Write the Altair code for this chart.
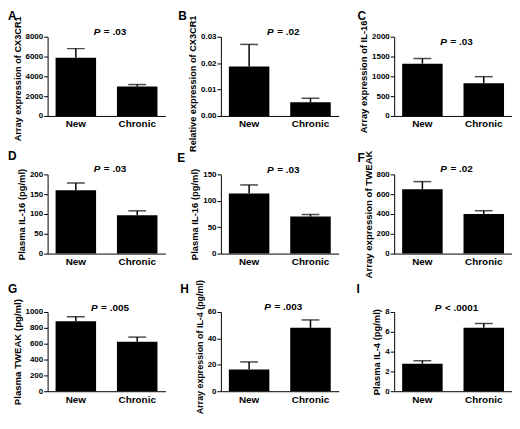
import altair as alt
import pandas as pd

# ---- data ----
letters = ["A", "B", "C", "D", "E", "F", "G", "H", "I"]
y_titles = [
    "Array expression of CX3CR1",
    "Relative expression of CX3CR1",
    "Array expression of IL-16",
    "Plasma IL-16 (pg/ml)",
    "Plasma IL-16 (pg/ml)",
    "Array expression of TWEAK",
    "Plasma TWEAK (pg/ml)",
    "Array expression of IL-4 (pg/ml)",
    "Plasma IL-4 (pg/ml)",
]
groups = ["New", "Chronic"]
new_mean = [5870, 0.0187, 1320, 160, 114, 650, 883, 16.5, 2.78]
new_sem = [930, 0.0084, 130, 18, 16, 77, 57, 5.7, 0.3]
chronic_mean = [2970, 0.0052, 825, 97, 70, 400, 625, 48, 6.42]
chronic_sem = [200, 0.0015, 167, 11, 4, 33, 58, 6, 0.42]
y_max = [8000, 0.03, 2000, 200, 150, 800, 1000, 60, 8]
y_ticks = [
    [0, 2000, 4000, 6000, 8000],
    [0, 0.01, 0.02, 0.03],
    [0, 500, 1000, 1500, 2000],
    [0, 50, 100, 150, 200],
    [0, 50, 100, 150],
    [0, 200, 400, 600, 800],
    [0, 200, 400, 600, 800, 1000],
    [0, 20, 40, 60],
    [0, 2, 4, 6, 8],
]
y_format = ["d", ".2f", "d", "d", "d", "d", "d", "d", "d"]
p_rest = ["= .03", "= .02", "= .03", "= .03", "= .03", "= .02", "= .005", "= .003", "< .0001"]

# ---- layout / style ----
FONT = "Liberation Sans"
W, H = 119, 80
title_size = [9.3, 9.3, 9.5, 9.5, 9.5, 9.7, 9.7, 9.0, 9.5]
title_shift = [2, 7, 0, 0, 0, 0, 0, -5, 0]
letter_dx = [-40, -43, -37, -40, -44, -37, -40, -41, -38]
letter_dy = [-26, -26, -26, -24, -22, -21, -28, -28, -28]
p_dy = [-5, -5, 5, -5, -4, -5, -4, -5, -4]

char_w = {"=": 0.584, "<": 0.584, " ": 0.278, ".": 0.278}


def text_width(s, size=10):
    return sum(char_w.get(c, 0.556) for c in s) * size


def panel(i):
    df = pd.DataFrame({
        "group": groups,
        "mean": [new_mean[i], chronic_mean[i]],
        "upper": [new_mean[i] + new_sem[i], chronic_mean[i] + chronic_sem[i]],
    })
    xscale = alt.Scale(paddingInner=0.34, paddingOuter=0.13)
    xaxis = alt.Axis(title=None, labelAngle=0, ticks=False,
                     labelFontSize=10, labelFontWeight="bold",
                     labelColor="black", labelPadding=3,
                     domainColor="black", domainWidth=1,
                     labelFont=FONT)
    yscale = alt.Scale(domain=[0, y_max[i]], nice=False, zero=True)
    yaxis = alt.Axis(title=y_titles[i], values=y_ticks[i], format=y_format[i],
                     labelOverlap=False, grid=False,
                     tickSize=4, tickColor="black", tickWidth=1,
                     domainColor="black", domainWidth=1,
                     labelFontSize=8, labelFontWeight="bold", labelColor="black",
                     labelPadding=1, labelFont=FONT,
                     titleFontSize=title_size[i], titleFontWeight="bold",
                     titleColor="black", titlePadding=3, titleFont=FONT,
                     titleY=H / 2 + title_shift[i])
    x = alt.X("group:N", sort=groups, scale=xscale, axis=xaxis)
    base = alt.Chart(df)
    bars = base.mark_bar(color="black").encode(
        x=x, y=alt.Y("mean:Q", scale=yscale, axis=yaxis))
    rule = base.mark_rule(color="black", strokeWidth=1.5).encode(
        x=x, y=alt.Y("mean:Q", scale=yscale, axis=yaxis), y2="upper:Q")
    cap = base.mark_tick(color="black", thickness=1.5, size=18).encode(
        x=x, y=alt.Y("upper:Q", scale=yscale, axis=yaxis))

    total = text_width("P ") + 1.1 + text_width(p_rest[i])
    x0 = W / 2 + 3 - total / 2
    pdf = pd.DataFrame({"t": ["P"]})
    p_it = alt.Chart(pdf).mark_text(
        font=FONT, fontSize=10, fontWeight="bold", fontStyle="italic",
        align="left", baseline="middle", color="black").encode(
        text="t:N", x=alt.value(x0), y=alt.value(p_dy[i]))
    rdf = pd.DataFrame({"t": [p_rest[i]]})
    p_rt = alt.Chart(rdf).mark_text(
        font=FONT, fontSize=10, fontWeight="bold",
        align="left", baseline="middle", color="black").encode(
        text="t:N", x=alt.value(x0 + 6.7 + 3.6), y=alt.value(p_dy[i]))
    ldf = pd.DataFrame({"t": [letters[i]]})
    letter = alt.Chart(ldf).mark_text(
        font=FONT, fontSize=12, fontWeight="bold",
        align="left", baseline="top", color="black").encode(
        text="t:N", x=alt.value(letter_dx[i]), y=alt.value(letter_dy[i]))
    return alt.layer(bars, rule, cap, p_it, p_rt, letter).properties(width=W, height=H)


chart = alt.concat(
    *[panel(i) for i in range(9)],
    columns=3,
    spacing={"row": 59, "column": 56},
    bounds="flush",
).properties(padding=0).configure(font=FONT, view=alt.ViewConfig(stroke=None))

chart.save("out.html", embed_options={"renderer": "svg", "actions": False})
